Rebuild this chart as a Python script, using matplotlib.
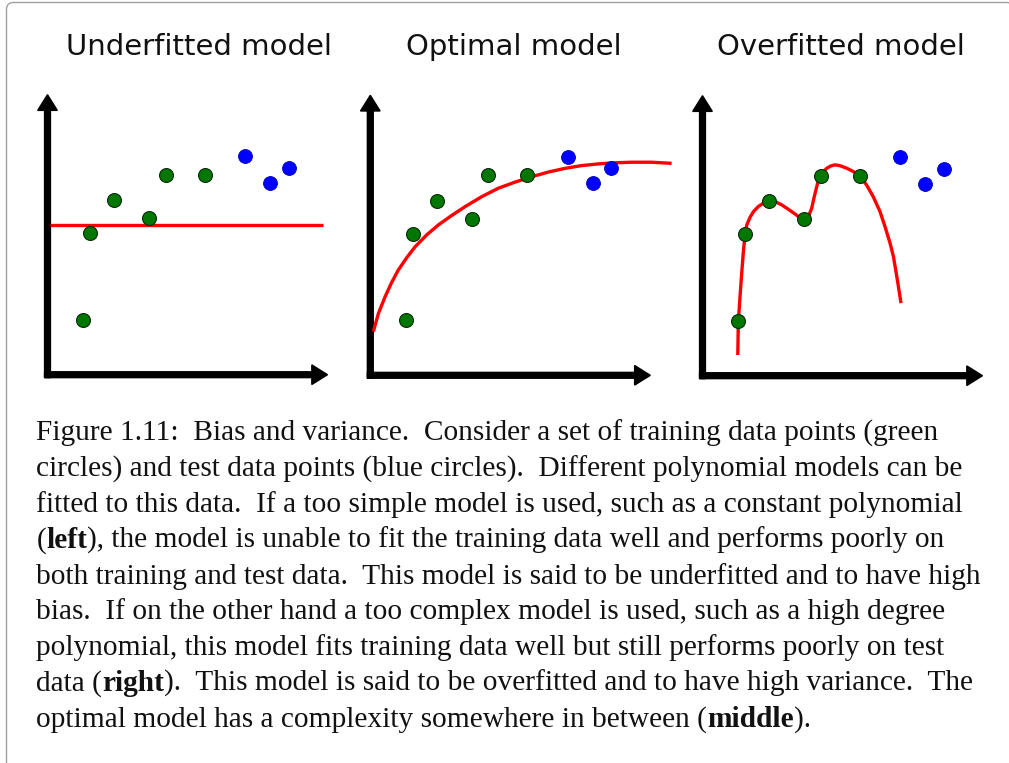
import matplotlib
matplotlib.use("Agg")
import matplotlib.pyplot as plt
from matplotlib.patches import FancyBboxPatch

# same data in all three panels (arbitrary units, axes run from 0 to 10)
train_x = [1.28, 1.53, 2.39, 3.64, 4.22, 5.61]
train_y = [1.96, 5.05, 6.24, 5.58, 7.14, 7.15]
test_x = [7.06, 7.96, 8.61]
test_y = [7.81, 6.86, 7.40]

# the fitted models
under_x = [0.09, 9.85]
under_y = [5.35, 5.35]

opt_x = [0.11, 0.29, 0.53, 0.76, 1.00, 1.30, 1.60, 2.01, 2.43, 2.91, 3.38, 3.98,
         4.57, 5.17, 5.76, 6.36, 6.95, 7.55, 8.14, 8.74, 9.34, 10.05, 10.76]
opt_y = [1.56, 2.21, 2.81, 3.31, 3.76, 4.20, 4.59, 5.01, 5.37, 5.71, 6.02, 6.38,
         6.68, 6.90, 7.09, 7.26, 7.39, 7.49, 7.55, 7.59, 7.61, 7.61, 7.57]

over_x = [1.26, 1.28, 1.34, 1.40, 1.46, 1.52, 1.58, 1.70, 1.82, 1.99, 2.17, 2.38,
          2.59, 2.83, 3.07, 3.30, 3.48, 3.64, 3.78, 3.90, 3.99, 4.08, 4.15, 4.22,
          4.32, 4.44, 4.58, 4.73, 4.91, 5.15, 5.39, 5.63, 5.86, 6.10, 6.34, 6.52,
          6.70, 6.82, 6.96, 7.09]
over_y = [0.74, 1.93, 2.82, 3.66, 4.43, 5.03, 5.38, 5.66, 5.86, 6.04, 6.16, 6.24,
          6.22, 6.10, 5.94, 5.78, 5.64, 5.56, 5.68, 5.98, 6.39, 6.75, 7.01, 7.13,
          7.29, 7.41, 7.49, 7.53, 7.50, 7.41, 7.29, 7.13, 6.81, 6.39, 5.86, 5.32,
          4.73, 4.25, 3.42, 2.59]

titles = ["Underfitted model", "Optimal model", "Overfitted model"]
models = [(under_x, under_y), (opt_x, opt_y), (over_x, over_y)]

caption = [
    [("Figure 1.11:  Bias and variance.  Consider a set of training data points (green", "normal")],
    [("circles) and test data points (blue circles).  Different polynomial models can be", "normal")],
    [("fitted to this data.  If a too simple model is used, such as a constant polynomial", "normal")],
    [("(", "normal"), ("left", "bold"), ("), the model is unable to fit the training data well and performs poorly on", "normal")],
    [("both training and test data.  This model is said to be underfitted and to have high", "normal")],
    [("bias.  If on the other hand a too complex model is used, such as a high degree", "normal")],
    [("polynomial, this model fits training data well but still performs poorly on test", "normal")],
    [("data (", "normal"), ("right", "bold"), (").  This model is said to be overfitted and to have high variance.  The", "normal")],
    [("optimal model has a complexity somewhere in between (", "normal"), ("middle", "bold"), (").", "normal")],
]

W, H = 1009, 763
unit = 28.0  # pixels per data unit
origins = [(47.5, 374.7), (370.3, 375.3), (702.5, 375.7)]
title_cx = [199, 514, 841]

fig = plt.figure(figsize=(W / 100, H / 100), dpi=100)
fig.patch.set_facecolor("white")

# frame around the figure (right and bottom edges fall outside the image)
bg = fig.add_axes([0, 0, 1, 1], zorder=-1)
bg.set_xlim(0, W)
bg.set_ylim(H, 0)
bg.axis("off")
bg.add_patch(FancyBboxPatch((6.5, 2.5), 1007, 820, boxstyle="round,pad=0,rounding_size=7",
                            ec="#a0a0a0", fc="none", lw=1.0))

for i in range(3):
    ox, oy = origins[i]
    left = (ox - unit) / W
    bottom = (H - oy - unit) / H
    ax = fig.add_axes([left, bottom, 12 * unit / W, 12 * unit / H])
    ax.set_xlim(-1, 11)
    ax.set_ylim(-1, 11)
    ax.axis("off")
    ax.patch.set_visible(False)

    # axes as thick arrows
    w = 0.21
    ax.arrow(0, -w / 2, 0, 10 + w / 2, width=w, head_width=0.7, head_length=0.56,
             length_includes_head=True, color="black", clip_on=False)
    ax.arrow(-w / 2, 0, 10 + w / 2, 0, width=w, head_width=0.7, head_length=0.56,
             length_includes_head=True, color="black", clip_on=False)

    mx, my = models[i]
    ax.plot(mx, my, color="#ff0000", lw=2.4, solid_joinstyle="round",
            solid_capstyle="butt", clip_on=False)
    ax.plot(train_x, train_y, "o", ms=10, mfc="#007700", mec="#0a2a0a", mew=0.8, clip_on=False)
    ax.plot(test_x, test_y, "o", ms=10, mfc="#0000ff", mec="#0000c0", mew=0.6, clip_on=False)

    fig.text(title_cx[i] / W, 1 - 54.7 / H, titles[i], ha="center", va="baseline",
             fontsize=21, family="DejaVu Sans", color="#111111")

# caption, one text per line so the bold words sit inline
renderer = fig.canvas.get_renderer()
serif = "Liberation Serif"
probe = fig.text(0, 0, caption[4][0][0], fontsize=20, family=serif)
size = 20 * 947 / probe.get_window_extent(renderer).width
probe.remove()

y = 440.7
for parts in caption:
    x = 36.5
    for txt, wt in parts:
        t = fig.text(x / W, 1 - y / H, txt, fontsize=size, fontweight=wt, family=serif,
                     va="baseline", color="#111111")
        x += t.get_window_extent(renderer).width
    y += 35.75

fig.savefig("out.png", dpi=100)
